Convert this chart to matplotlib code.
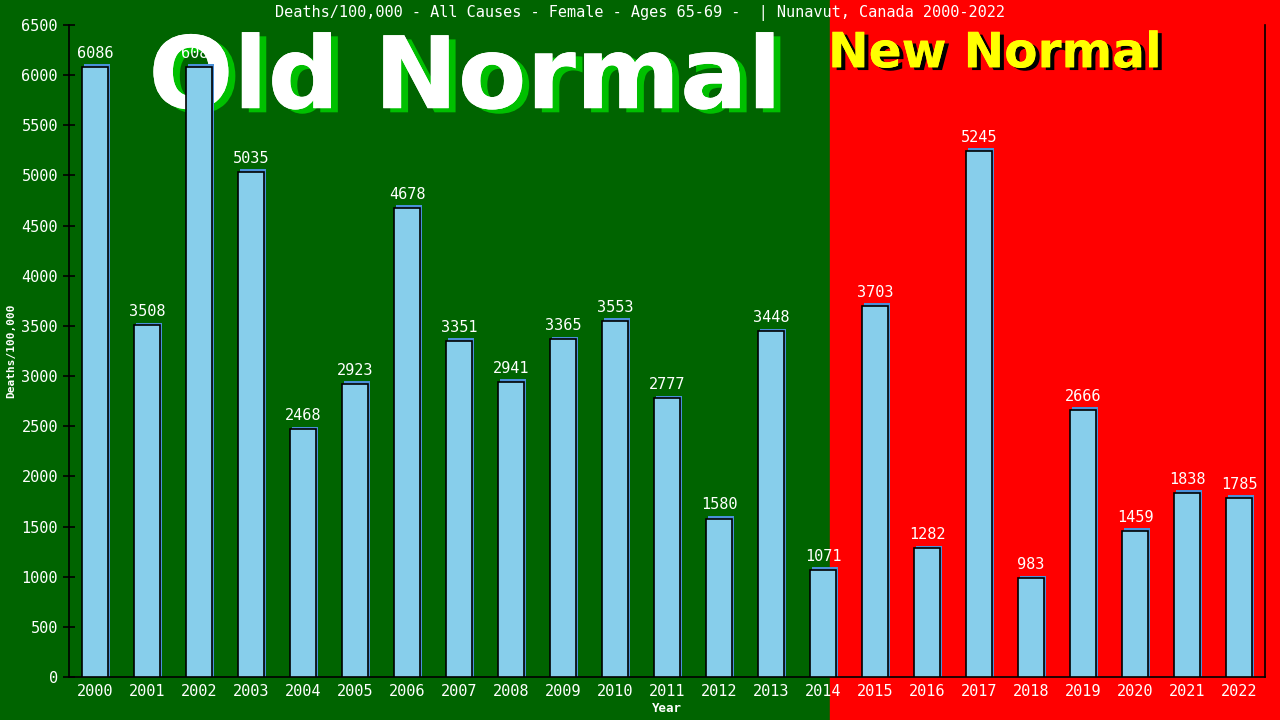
import matplotlib.pyplot as plt
import matplotlib.patheffects as pe

# data
years = [str(y) for y in range(2000, 2023)]
deaths = [6086, 3508, 6086, 5035, 2468, 2923, 4678, 3351, 2941, 3365, 3553, 2777,
          1580, 3448, 1071, 3703, 1282, 5245, 983, 2666, 1459, 1838, 1785]
yticks = list(range(0, 7000, 500))

mono = 'DejaVu Sans Mono'

fig = plt.figure(figsize=(12.8, 7.2), dpi=100)
fig.patch.set_facecolor('#006400')

# red "new normal" half of the background
fig.add_artist(plt.Rectangle((830 / 1280, 0), 1 - 830 / 1280, 1,
                             transform=fig.transFigure, color='#ff0000', zorder=-1))

# big banner texts sit behind the bars
fig.text(465 / 1280, 0.888, 'Old Normal', ha='center', va='center', color='white',
         fontsize=72, fontweight='bold', family='DejaVu Sans', zorder=0.5,
         path_effects=[pe.withSimplePatchShadow(offset=(5, -3), shadow_rgbFace='#00c000', alpha=1),
                       pe.Normal()])
fig.text(995 / 1280, 0.926, 'New Normal', ha='center', va='center', color='yellow',
         fontsize=35, fontweight='bold', family='DejaVu Sans', zorder=0.5,
         path_effects=[pe.withSimplePatchShadow(offset=(3, -2), shadow_rgbFace='black', alpha=1),
                       pe.Normal()])

ax = fig.add_axes([69 / 1280, 43 / 720, 1196 / 1280, 652 / 720])
ax.set_facecolor('none')
ax.set_zorder(1)

x = list(range(len(years)))
# light blue shadow behind the bars
ax.bar([i + 0.03 for i in x], [d + 25 for d in deaths], width=0.5,
       color='#4a90d9', zorder=2)
ax.bar(x, deaths, width=0.5, color='skyblue', edgecolor='black', linewidth=1.2, zorder=3)

for i, d in enumerate(deaths):
    ax.text(i, d + 60, str(d), ha='center', va='bottom', color='white',
            fontsize=11, family=mono, zorder=4)

ax.set_xlim(-0.5, len(years) - 0.5)
ax.set_ylim(0, 6500)
ax.set_xticks(x)
ax.set_xticklabels(years)
ax.set_yticks(yticks)
ax.tick_params(axis='x', length=0, colors='white', labelsize=11, pad=5)
ax.tick_params(axis='y', direction='inout', length=9, width=1.2, colors='black',
               labelcolor='white', labelsize=11)
for lab in ax.get_xticklabels() + ax.get_yticklabels():
    lab.set_family(mono)

ax.spines['top'].set_visible(False)
for s in ['left', 'bottom', 'right']:
    ax.spines[s].set_color('black')
    ax.spines[s].set_linewidth(1.2)

ax.set_xlabel('Year', color='white', fontsize=9, family=mono, fontweight='bold', labelpad=2)
ax.set_ylabel('Deaths/100,000', color='white', fontsize=8, family=mono,
              fontweight='bold', labelpad=4)

fig.text(0.5, 0.982, 'Deaths/100,000 - All Causes - Female - Ages 65-69 -  | Nunavut, Canada 2000-2022',
         ha='center', va='center', color='white', fontsize=11, family=mono)

fig.savefig('out.png', dpi=100, facecolor=fig.get_facecolor())
